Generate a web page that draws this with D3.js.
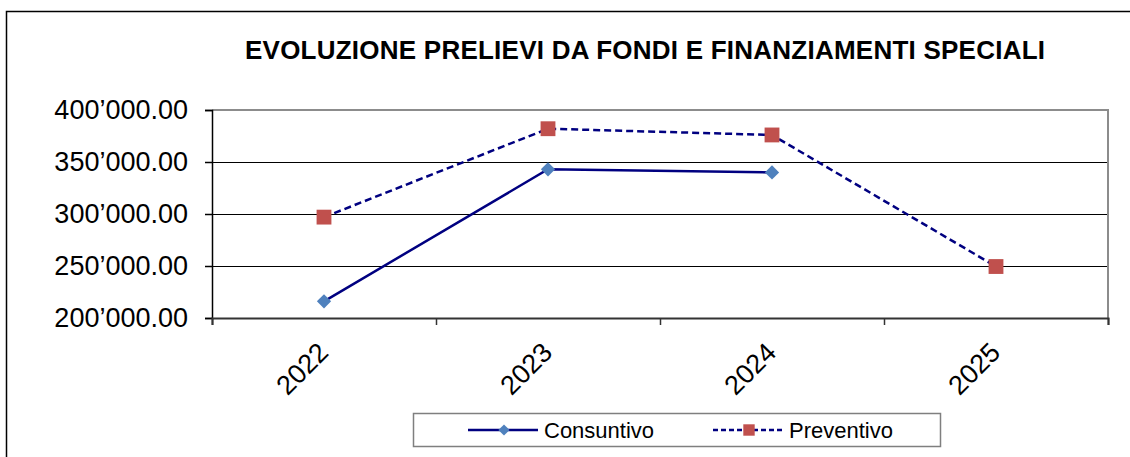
<!DOCTYPE html>
<html>
<head>
<meta charset="utf-8">
<script src="https://cdn.jsdelivr.net/npm/d3@7"></script>
<style>
  body { margin: 0; background: #fff; }
  text { font-family: Arial, "Liberation Sans", sans-serif; fill: #000; }
</style>
</head>
<body>
<div id="chart"></div>
<script>
const years = ["2022", "2023", "2024", "2025"];
const consuntivo = [216000, 343000, 340000, null];
const preventivo = [297000, 382000, 376000, 249500];
const yTicks = [200000, 250000, 300000, 350000, 400000];

const width = 1130, height = 457;
const margin = { LEFT: 212, RIGHT: 22, TOP: 110, BOTTOM: 139 };
const plotW = width - margin.LEFT - margin.RIGHT;
const plotH = height - margin.TOP - margin.BOTTOM;

const svg = d3.select("#chart").append("svg")
  .attr("width", width)
  .attr("height", height);

// outer frame
svg.append("path")
  .attr("d", `M6.5,${height} V11.5 H${width}`)
  .attr("fill", "none")
  .attr("stroke", "#000")
  .attr("stroke-width", 1.5);

svg.append("text")
  .attr("x", 645)
  .attr("y", 59)
  .attr("text-anchor", "middle")
  .attr("font-size", "26px")
  .attr("font-weight", "bold")
  .attr("textLength", 800)
  .attr("lengthAdjust", "spacing")
  .text("EVOLUZIONE PRELIEVI DA FONDI E FINANZIAMENTI SPECIALI");

const g = svg.append("g")
  .attr("transform", `translate(${margin.LEFT}, ${margin.TOP})`);

// Scales
const x = d3.scaleBand().domain(years).range([0, plotW]).padding(0);
const xEdge = d3.scaleLinear().domain([0, years.length]).range([0, plotW]);
const y = d3.scaleLinear().domain([200000, 400000]).range([plotH, 0]);

const fmt = d3.formatLocale({ decimal: ".", thousands: "\u2019", grouping: [3], currency: ["", ""] }).format(",.2f");

// gridlines
g.append("g")
  .selectAll("line")
  .data(yTicks.slice(1, -1))
  .join("line")
  .attr("x1", 0).attr("x2", plotW)
  .attr("y1", d => Math.round(y(d)) + 0.5).attr("y2", d => Math.round(y(d)) + 0.5)
  .attr("stroke", "#000")
  .attr("stroke-width", 1);

// plot frame (top and right)
g.append("path")
  .attr("d", `M0,0 H${plotW} V${plotH}`)
  .attr("fill", "none")
  .attr("stroke", "#8c8c8c")
  .attr("stroke-width", 2);

// Y Axis
const yAxis = g.append("g")
  .call(d3.axisLeft(y).tickValues(yTicks).tickSize(7).tickPadding(17).tickFormat(fmt));
yAxis.select(".domain").attr("stroke", "#000").attr("stroke-width", 1.5);
yAxis.selectAll(".tick line").attr("stroke-width", 1.5);
yAxis.selectAll("text")
  .attr("font-size", "27px")
  .attr("font-family", "Arial, 'Liberation Sans', sans-serif")
  .attr("fill", "#000");

// X Axis (ticks at category edges)
const xAxis = g.append("g")
  .attr("transform", `translate(0, ${plotH})`)
  .call(d3.axisBottom(xEdge).tickValues(d3.range(years.length + 1)).tickSize(7).tickFormat(""));
xAxis.select(".domain").attr("stroke", "#333").attr("stroke-width", 2);
xAxis.selectAll(".tick line").attr("stroke", "#333").attr("stroke-width", 1.5);

g.append("g")
  .selectAll("text")
  .data(years)
  .join("text")
  .attr("transform", d => `translate(${x(d) + x.bandwidth() / 2 + 6}, ${plotH + 36}) rotate(-45)`)
  .attr("text-anchor", "end")
  .attr("font-size", "27px")
  .text(d => d);

// Lines
const cx = (d, i) => x(years[i]) + x.bandwidth() / 2;
const line = d3.line()
  .defined(d => d !== null)
  .x(cx)
  .y(d => y(d));

g.append("path")
  .datum(consuntivo)
  .attr("d", line)
  .attr("fill", "none")
  .attr("stroke", "#000080")
  .attr("stroke-width", 2.5);

g.append("path")
  .datum(preventivo)
  .attr("d", line)
  .attr("fill", "none")
  .attr("stroke", "#000080")
  .attr("stroke-width", 2.5)
  .attr("stroke-dasharray", "7,4");

const diamond = d3.symbol().type(d3.symbolDiamond2).size(130);
const square = d3.symbol().type(d3.symbolSquare).size(220);

g.append("g")
  .selectAll("path")
  .data(consuntivo.map((v, i) => ({ v, i })).filter(d => d.v !== null))
  .join("path")
  .attr("transform", d => `translate(${cx(d.v, d.i)}, ${y(d.v)})`)
  .attr("d", diamond)
  .attr("fill", "#4f81bd");

g.append("g")
  .selectAll("path")
  .data(preventivo.map((v, i) => ({ v, i })).filter(d => d.v !== null))
  .join("path")
  .attr("transform", d => `translate(${cx(d.v, d.i)}, ${y(d.v)})`)
  .attr("d", square)
  .attr("fill", "#c0504d");

// Legend
const legend = svg.append("g");
legend.append("rect")
  .attr("x", 413.5).attr("y", 413.5)
  .attr("width", 527).attr("height", 33)
  .attr("fill", "#fff")
  .attr("stroke", "#7f7f7f")
  .attr("stroke-width", 1.5);

const items = [
  { name: "Consuntivo", x0: 468, dash: null, sym: d3.symbol().type(d3.symbolDiamond2).size(80), color: "#4f81bd" },
  { name: "Preventivo", x0: 713, dash: "5,3", sym: d3.symbol().type(d3.symbolSquare).size(130), color: "#c0504d" }
];

items.forEach(it => {
  const row = legend.append("g").attr("transform", `translate(${it.x0}, 430)`);
  row.append("line")
    .attr("x1", 0).attr("x2", 70)
    .attr("stroke", "#000080")
    .attr("stroke-width", 2.5)
    .attr("stroke-dasharray", it.dash);
  row.append("path")
    .attr("transform", "translate(36, 0)")
    .attr("d", it.sym)
    .attr("fill", it.color);
  row.append("text")
    .attr("x", 76)
    .attr("y", 8)
    .attr("font-size", "22px")
    .text(it.name);
});
</script>
</body>
</html>
